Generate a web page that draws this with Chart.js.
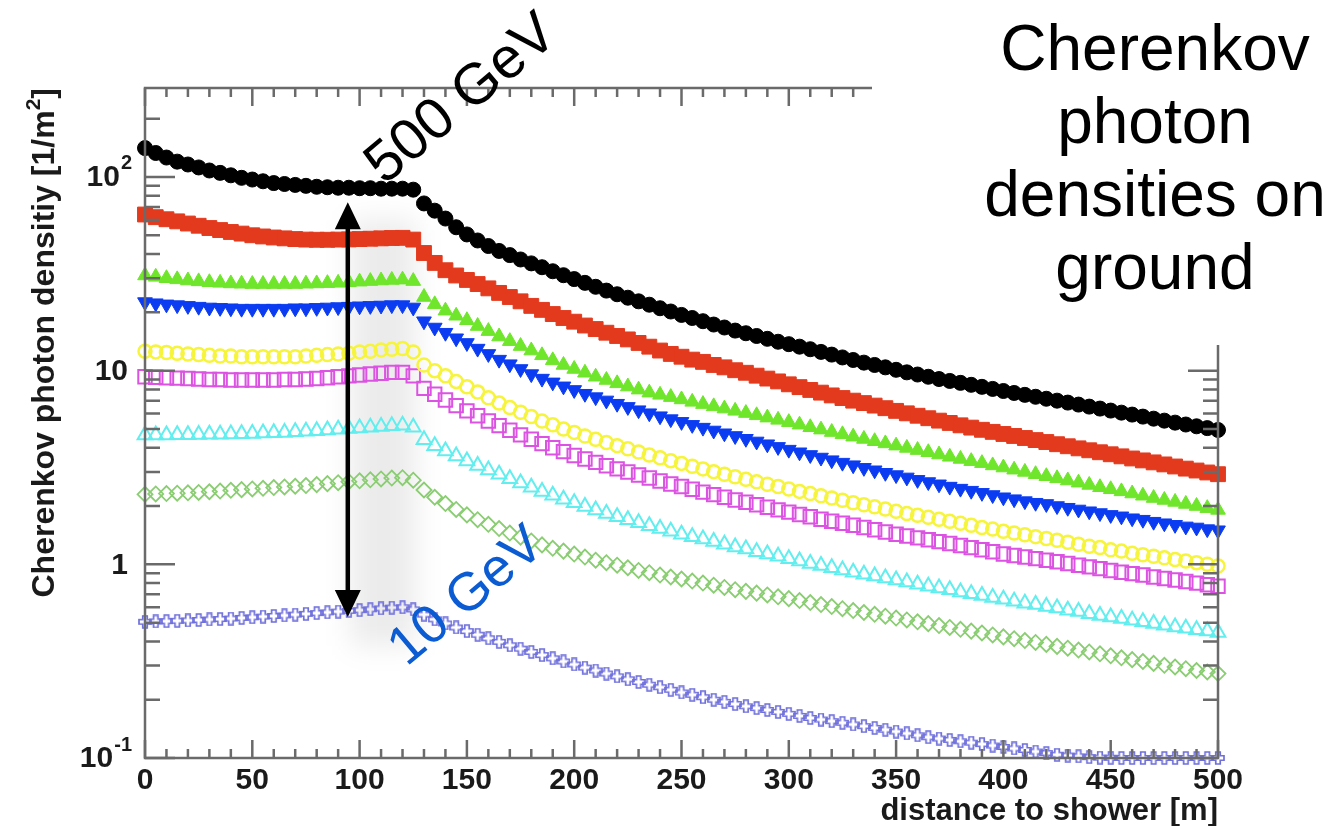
<!DOCTYPE html>
<html>
<head>
<meta charset="utf-8">
<title>Cherenkov photon densities on ground</title>
<script src="https://cdn.jsdelivr.net/npm/chart.js@4.4.0/dist/chart.umd.min.js"></script>
<style>
  html, body { margin: 0; padding: 0; background: #fff; }
  #wrap { position: relative; width: 1328px; height: 826px; }
</style>
</head>
<body>
<div id="wrap"><canvas id="densityChart"></canvas></div>
<script>
// distance to shower axis [m]
const distances = [
  0, 5, 10, 15, 20, 25, 30, 35, 40, 45,
  50, 55, 60, 65, 70, 75, 80, 85, 90, 95,
  100, 105, 110, 115, 120, 125, 130, 135, 140, 145,
  150, 155, 160, 165, 170, 175, 180, 185, 190, 195,
  200, 205, 210, 215, 220, 225, 230, 235, 240, 245,
  250, 255, 260, 265, 270, 275, 280, 285, 290, 295,
  300, 305, 310, 315, 320, 325, 330, 335, 340, 345,
  350, 355, 360, 365, 370, 375, 380, 385, 390, 395,
  400, 405, 410, 415, 420, 425, 430, 435, 440, 445,
  450, 455, 460, 465, 470, 475, 480, 485, 490, 495,
  500
];

// photon densities [1/m^2], highest energy first
const blackCircles = [
  141, 133, 126, 120, 116, 112, 108, 105, 102, 99,
  97, 95, 93, 92, 91, 90, 89, 88.5, 88, 88,
  87.5, 87.5, 87, 87, 87, 86, 73, 67, 61, 55,
  50.5, 47, 44, 41.5, 39.5, 37.5, 35.8, 34.2, 32.6, 31.1,
  29.7, 28.4, 27.1, 25.9, 24.8, 23.8, 22.8, 21.9, 21, 20.2,
  19.4, 18.7, 18, 17.3, 16.7, 16.1, 15.6, 15.1, 14.6, 14.1,
  13.7, 13.3, 12.9, 12.5, 12.1, 11.7, 11.35, 11, 10.7, 10.4,
  10.1, 9.8, 9.55, 9.3, 9.05, 8.85, 8.65, 8.45, 8.25, 8.05,
  7.85, 7.67, 7.5, 7.33, 7.16, 7, 6.84, 6.68, 6.52, 6.37,
  6.22, 6.07, 5.93, 5.79, 5.65, 5.52, 5.39, 5.27, 5.16, 5.05,
  4.94
];
const redSquares = [
  64, 62, 60.5, 59, 57.5, 56, 54.5, 53.2, 52, 51,
  50, 49.3, 48.7, 48.2, 47.8, 47.5, 47.4, 47.4, 47.5, 47.6,
  47.8, 48, 48.2, 48.4, 48.5, 47.5, 40.5, 36, 33, 31,
  29.4, 28, 26.6, 25.2, 24, 22.8, 21.6, 20.6, 19.6, 18.7,
  17.9, 17.1, 16.4, 15.7, 15.1, 14.5, 13.9, 13.3, 12.7, 12.2,
  11.8, 11.4, 11.1, 10.7, 10.4, 10.05, 9.75, 9.42, 9.1, 8.8,
  8.5, 8.22, 7.95, 7.7, 7.45, 7.22, 7, 6.8, 6.6, 6.4,
  6.2, 6.02, 5.85, 5.68, 5.52, 5.37, 5.22, 5.08, 4.95, 4.83,
  4.71, 4.6, 4.49, 4.38, 4.28, 4.17, 4.07, 3.97, 3.88, 3.79,
  3.7, 3.61, 3.52, 3.44, 3.36, 3.28, 3.2, 3.12, 3.05, 2.98,
  2.92
];
const greenTriangles = [
  31, 30.5, 30, 29.6, 29.2, 28.9, 28.6, 28.4, 28.2, 28.1,
  28, 28, 28, 28, 28, 28.1, 28.2, 28.3, 28.4, 28.6,
  28.8, 29, 29.2, 29.4, 29.5, 29, 24, 22, 20.4, 19.2,
  18.2, 17, 16, 15, 14.2, 13.4, 12.7, 12, 11.3, 10.7,
  10.2, 9.75, 9.3, 8.95, 8.6, 8.28, 7.98, 7.7, 7.5, 7.3,
  7.1, 6.9, 6.72, 6.54, 6.37, 6.2, 6.04, 5.88, 5.72, 5.57,
  5.42, 5.26, 5.1, 4.96, 4.82, 4.69, 4.56, 4.44, 4.32, 4.21,
  4.1, 3.99, 3.89, 3.79, 3.69, 3.59, 3.5, 3.41, 3.33, 3.24,
  3.16, 3.08, 3, 2.92, 2.85, 2.78, 2.71, 2.64, 2.57, 2.5,
  2.44, 2.38, 2.32, 2.26, 2.2, 2.15, 2.1, 2.05, 2, 1.95,
  1.91
];
const blueTriangles = [
  22.6, 22.3, 22, 21.8, 21.6, 21.4, 21.2, 21.1, 21, 20.9,
  20.9, 20.9, 20.9, 20.9, 21, 21, 21.1, 21.2, 21.3, 21.4,
  21.5, 21.6, 21.7, 21.8, 21.8, 21.2, 18, 16.7, 15.7, 14.7,
  13.9, 13, 12.2, 11.4, 10.8, 10.2, 9.6, 9.1, 8.7, 8.3,
  7.95, 7.6, 7.3, 7.02, 6.75, 6.5, 6.25, 6.03, 5.82, 5.62,
  5.44, 5.25, 5.08, 4.91, 4.75, 4.6, 4.45, 4.31, 4.17, 4.04,
  3.91, 3.79, 3.67, 3.56, 3.45, 3.35, 3.25, 3.15, 3.06, 2.97,
  2.89, 2.81, 2.73, 2.66, 2.59, 2.52, 2.46, 2.4, 2.34, 2.28,
  2.22, 2.17, 2.12, 2.08, 2.05, 2, 1.96, 1.92, 1.88, 1.84,
  1.8, 1.77, 1.73, 1.7, 1.66, 1.63, 1.6, 1.57, 1.55, 1.52,
  1.5
];
const yellowCircles = [
  12.6, 12.5, 12.4, 12.3, 12.2, 12.1, 12, 11.9, 11.9, 11.8,
  11.8, 11.8, 11.8, 11.8, 11.8, 11.9, 12, 12.1, 12.2, 12.3,
  12.5, 12.6, 12.8, 12.9, 13, 12.5, 10.7, 10, 9.4, 8.8,
  8.25, 7.75, 7.25, 6.8, 6.45, 6.1, 5.8, 5.5, 5.25, 5,
  4.8, 4.6, 4.42, 4.25, 4.1, 3.95, 3.8, 3.67, 3.55, 3.43,
  3.32, 3.21, 3.11, 3.01, 2.92, 2.83, 2.75, 2.67, 2.59, 2.52,
  2.45, 2.38, 2.32, 2.26, 2.2, 2.14, 2.08, 2.03, 1.98, 1.93,
  1.88, 1.83, 1.79, 1.75, 1.71, 1.67, 1.63, 1.59, 1.55, 1.52,
  1.48, 1.45, 1.42, 1.39, 1.36, 1.33, 1.3, 1.27, 1.24, 1.22,
  1.19, 1.17, 1.14, 1.12, 1.1, 1.08, 1.06, 1.04, 1.02, 1,
  0.98
];
const magentaSquares = [
  9.3, 9.25, 9.2, 9.15, 9.1, 9.05, 9, 9, 8.95, 8.95,
  8.95, 8.95, 8.95, 9, 9, 9.05, 9.1, 9.2, 9.3, 9.4,
  9.5, 9.6, 9.7, 9.8, 9.8, 9.4, 8.1, 7.55, 7.05, 6.6,
  6.2, 5.85, 5.5, 5.2, 4.92, 4.66, 4.42, 4.2, 4, 3.82,
  3.65, 3.5, 3.36, 3.23, 3.11, 3, 2.89, 2.79, 2.69, 2.6,
  2.52, 2.44, 2.36, 2.29, 2.22, 2.15, 2.09, 2.03, 1.97, 1.91,
  1.86, 1.81, 1.76, 1.71, 1.67, 1.63, 1.59, 1.55, 1.51, 1.47,
  1.43, 1.4, 1.37, 1.34, 1.31, 1.28, 1.25, 1.22, 1.19, 1.16,
  1.13, 1.11, 1.09, 1.07, 1.05, 1.03, 1.01, 0.99, 0.97, 0.95,
  0.93, 0.91, 0.895, 0.88, 0.86, 0.845, 0.83, 0.815, 0.8, 0.785,
  0.77
];
const cyanTriangles = [
  4.65, 4.65, 4.65, 4.66, 4.67, 4.68, 4.69, 4.7, 4.71, 4.72,
  4.74, 4.76, 4.78, 4.8, 4.83, 4.86, 4.9, 4.94, 4.98, 5.02,
  5.06, 5.1, 5.15, 5.2, 5.22, 5.1, 4.4, 4.1, 3.85, 3.62,
  3.42, 3.24, 3.07, 2.92, 2.77, 2.63, 2.5, 2.38, 2.27, 2.17,
  2.08, 1.99, 1.91, 1.83, 1.76, 1.7, 1.64, 1.58, 1.53, 1.48,
  1.43, 1.39, 1.35, 1.31, 1.27, 1.23, 1.2, 1.16, 1.13, 1.1,
  1.07, 1.04, 1.01, 0.985, 0.96, 0.935, 0.91, 0.89, 0.87, 0.85,
  0.83, 0.81, 0.79, 0.77, 0.755, 0.74, 0.72, 0.705, 0.69, 0.675,
  0.66, 0.645, 0.63, 0.62, 0.605, 0.595, 0.58, 0.57, 0.555, 0.545,
  0.535, 0.525, 0.515, 0.505, 0.495, 0.485, 0.475, 0.467, 0.46, 0.452,
  0.445
];
const greenDiamonds = [
  2.3, 2.31, 2.32, 2.33, 2.34, 2.35, 2.37, 2.39, 2.41, 2.43,
  2.45, 2.47, 2.49, 2.51, 2.53, 2.55, 2.58, 2.61, 2.64, 2.67,
  2.7, 2.73, 2.76, 2.79, 2.8, 2.72, 2.42, 2.22, 2.06, 1.92,
  1.8, 1.7, 1.61, 1.53, 1.45, 1.38, 1.32, 1.26, 1.21, 1.17,
  1.13, 1.09, 1.05, 1.02, 0.99, 0.96, 0.93, 0.905, 0.88, 0.86,
  0.84, 0.82, 0.8, 0.78, 0.76, 0.74, 0.725, 0.71, 0.695, 0.68,
  0.665, 0.65, 0.635, 0.62, 0.605, 0.59, 0.577, 0.564, 0.552, 0.54,
  0.528, 0.516, 0.505, 0.494, 0.483, 0.472, 0.462, 0.452, 0.442, 0.432,
  0.422, 0.413, 0.404, 0.395, 0.386, 0.377, 0.369, 0.361, 0.353, 0.345,
  0.337, 0.329, 0.322, 0.315, 0.308, 0.301, 0.295, 0.289, 0.283, 0.278,
  0.273
];
const violetCrosses = [
  0.505, 0.507, 0.509, 0.511, 0.513, 0.516, 0.519, 0.522, 0.525, 0.529,
  0.533, 0.537, 0.541, 0.545, 0.55, 0.555, 0.56, 0.565, 0.57, 0.575,
  0.58, 0.586, 0.592, 0.598, 0.6, 0.585, 0.55, 0.52, 0.495, 0.472,
  0.452, 0.433, 0.415, 0.398, 0.382, 0.367, 0.353, 0.34, 0.327, 0.315,
  0.304, 0.293, 0.283, 0.273, 0.264, 0.255, 0.247, 0.239, 0.232, 0.225,
  0.218, 0.212, 0.206, 0.2, 0.195, 0.19, 0.185, 0.181, 0.177, 0.173,
  0.169, 0.165, 0.161, 0.158, 0.155, 0.152, 0.149, 0.146, 0.143, 0.14,
  0.137, 0.134, 0.131, 0.128, 0.126, 0.124, 0.122, 0.12, 0.118, 0.116,
  0.114, 0.112, 0.11, 0.108, 0.106, 0.104, 0.103, 0.102, 0.101, 0.1005,
  0.1003, 0.1, 0.1, 0.1, 0.1, 0.1, 0.1, 0.1, 0.1, 0.1,
  0.1
];

// axis ticks
const xTickValues = [0, 50, 100, 150, 200, 250, 300, 350, 400, 450, 500];
const yTickValues = [0.1, 1, 10, 100];
const yTickBases = ['10', '1', '10', '10'];
const yTickExps = ['-1', '', '', '2'];
const titleLines = ['Cherenkov', 'photon', 'densities on', 'ground'];

const FONT = '"Liberation Sans", Arial, Helvetica, sans-serif';

// ROOT style open cross marker
function openCross(color, size) {
  const c = document.createElement('canvas');
  c.width = size; c.height = size;
  const g = c.getContext('2d');
  const m = 1, a = size * 0.34, b = size * 0.66, s = size - 1;
  g.strokeStyle = color;
  g.lineWidth = 1.7;
  g.beginPath();
  g.moveTo(a, m); g.lineTo(b, m); g.lineTo(b, a); g.lineTo(s, a);
  g.lineTo(s, b); g.lineTo(b, b); g.lineTo(b, s); g.lineTo(a, s);
  g.lineTo(a, b); g.lineTo(m, b); g.lineTo(m, a); g.lineTo(a, a);
  g.closePath();
  g.stroke();
  return c;
}

function series(label, values, style) {
  return Object.assign({
    label: label,
    data: distances.map((d, i) => ({ x: d, y: values[i] })),
    showLine: false,
    clip: false
  }, style);
}

// frame, ticks, labels and annotations in ROOT look
const rootFrame = {
  id: 'rootFrame',
  beforeDatasetsDraw(chart) {
    const { ctx, scales: { x, y } } = chart;
    const l = x.getPixelForValue(96), r = x.getPixelForValue(126);
    const t = y.getPixelForValue(60), b = y.getPixelForValue(0.38);
    ctx.save();
    ctx.filter = 'blur(14px)';
    ctx.fillStyle = 'rgba(0,0,0,0.08)';
    ctx.fillRect(l, t, r - l, b - t);
    ctx.restore();
  },
  afterDatasetsDraw(chart) {
    const { ctx, chartArea: a, scales: { x, y } } = chart;
    ctx.save();
    ctx.strokeStyle = '#6a6a6a';
    ctx.lineWidth = 2.5;
    ctx.strokeRect(a.left, a.top, a.right - a.left, a.bottom - a.top);
    ctx.beginPath();
    for (let v = 0; v <= 500; v += 10) {
      const px = x.getPixelForValue(v);
      const len = v % 50 === 0 ? 18 : 9;
      ctx.moveTo(px, a.bottom); ctx.lineTo(px, a.bottom - len);
      ctx.moveTo(px, a.top); ctx.lineTo(px, a.top + len);
    }
    for (let e = -1; e <= 2; e++) {
      for (let k = 1; k <= 9; k++) {
        const v = k * Math.pow(10, e);
        if (v > y.max) break;
        const py = y.getPixelForValue(v);
        const len = k === 1 ? 30 : 15;
        ctx.moveTo(a.left, py); ctx.lineTo(a.left + len, py);
        ctx.moveTo(a.right, py); ctx.lineTo(a.right - len, py);
      }
    }
    ctx.stroke();

    // tick labels
    ctx.fillStyle = '#1a1a1a';
    ctx.font = 'bold 30px ' + FONT;
    ctx.textAlign = 'center';
    ctx.textBaseline = 'middle';
    xTickValues.forEach(v => ctx.fillText(String(v), x.getPixelForValue(v), 781));

    yTickValues.forEach((v, i) => {
      const py = y.getPixelForValue(v);
      const right = 132;
      ctx.font = 'bold 20px ' + FONT;
      const ew = yTickExps[i] ? ctx.measureText(yTickExps[i]).width + 1 : 4;
      if (yTickExps[i]) {
        ctx.textAlign = 'right';
        ctx.fillText(yTickExps[i], right, py - 13);
      }
      ctx.font = 'bold 30px ' + FONT;
      ctx.textAlign = 'right';
      ctx.fillText(yTickBases[i], right - ew, py + 1);
    });

    // axis titles
    ctx.textBaseline = 'alphabetic';
    ctx.font = 'bold 31px ' + FONT;
    ctx.textAlign = 'right';
    ctx.fillText('distance to shower [m]', a.right, 820);

    ctx.save();
    ctx.translate(54, a.top);
    ctx.rotate(-Math.PI / 2);
    ctx.textAlign = 'left';
    const main = 'Cherenkov photon densitiy [1/m';
    ctx.font = 'bold 32px ' + FONT;
    const wMain = ctx.measureText(main).width;
    const wEnd = ctx.measureText(']').width;
    ctx.font = 'bold 21px ' + FONT;
    const wSup = ctx.measureText('2').width;
    let pos = -(wMain + wSup + wEnd);
    ctx.font = 'bold 32px ' + FONT;
    ctx.fillText(main, pos, 0);
    pos += wMain;
    ctx.font = 'bold 21px ' + FONT;
    ctx.fillText('2', pos, -14);
    pos += wSup;
    ctx.font = 'bold 32px ' + FONT;
    ctx.fillText(']', pos, 0);
    ctx.restore();

    // double arrow
    const ax = x.getPixelForValue(94.5);
    const top = y.getPixelForValue(74), bot = y.getPixelForValue(0.535);
    ctx.strokeStyle = '#000';
    ctx.fillStyle = '#000';
    ctx.lineWidth = 4.5;
    ctx.beginPath();
    ctx.moveTo(ax, top + 20); ctx.lineTo(ax, bot - 20);
    ctx.stroke();
    ctx.beginPath();
    ctx.moveTo(ax, top); ctx.lineTo(ax - 13, top + 27); ctx.lineTo(ax + 13, top + 27); ctx.closePath();
    ctx.moveTo(ax, bot); ctx.lineTo(ax - 13, bot - 27); ctx.lineTo(ax + 13, bot - 27); ctx.closePath();
    ctx.fill();
    ctx.restore();
  },
  afterDraw(chart) {
    const { ctx } = chart;
    ctx.save();
    // slide text box covers the upper right corner of the frame
    ctx.fillStyle = '#fff';
    ctx.fillRect(872, 0, 456, 345);

    ctx.fillStyle = '#000';
    ctx.font = '64px ' + FONT;
    ctx.textAlign = 'center';
    ctx.textBaseline = 'alphabetic';
    titleLines.forEach((t, i) => ctx.fillText(t, 1155, 70 + i * 73));

    ctx.textBaseline = 'middle';
    ctx.save();
    ctx.translate(462, 100);
    ctx.rotate(-40 * Math.PI / 180);
    ctx.font = '58px ' + FONT;
    ctx.fillStyle = '#000';
    ctx.fillText('500 GeV', 0, 0);
    ctx.restore();

    ctx.save();
    ctx.translate(467, 597);
    ctx.rotate(-40 * Math.PI / 180);
    ctx.font = '54px ' + FONT;
    ctx.fillStyle = '#0b5bd3';
    ctx.fillText('10 GeV', 0, 0);
    ctx.restore();
    ctx.restore();
  }
};

const ctx = document.getElementById('densityChart').getContext('2d');

const densityChart = new Chart(ctx, {
  type: 'scatter',
  data: {
    datasets: [
      series('500 GeV', blackCircles, {
        pointStyle: 'circle', pointRadius: 7.5, borderWidth: 1,
        backgroundColor: '#000', borderColor: '#000'
      }),
      series('red', redSquares, {
        pointStyle: 'rect', pointRadius: 10.5, borderWidth: 1,
        backgroundColor: '#e33a1e', borderColor: '#e33a1e'
      }),
      series('green', greenTriangles, {
        pointStyle: 'triangle', pointRadius: 8.5, borderWidth: 1,
        backgroundColor: '#6fe52c', borderColor: '#6fe52c'
      }),
      series('blue', blueTriangles, {
        pointStyle: 'triangle', pointRotation: 180, pointRadius: 8.5, borderWidth: 1,
        backgroundColor: '#0b3cf2', borderColor: '#0b3cf2'
      }),
      series('yellow', yellowCircles, {
        pointStyle: 'circle', pointRadius: 6.5, borderWidth: 2.5,
        backgroundColor: 'rgba(0,0,0,0)', borderColor: '#f6f43c'
      }),
      series('magenta', magentaSquares, {
        pointStyle: 'rect', pointRadius: 9.5, borderWidth: 2,
        backgroundColor: 'rgba(0,0,0,0)', borderColor: '#dc52e2'
      }),
      series('cyan', cyanTriangles, {
        pointStyle: 'triangle', pointRadius: 8.5, borderWidth: 2,
        backgroundColor: 'rgba(0,0,0,0)', borderColor: '#62eeee'
      }),
      series('light green', greenDiamonds, {
        pointStyle: 'rectRot', pointRadius: 7.5, borderWidth: 1.8,
        backgroundColor: 'rgba(0,0,0,0)', borderColor: '#8acd72'
      }),
      series('10 GeV', violetCrosses, {
        pointStyle: openCross('#6f6fdc', 14), pointRadius: 7,
        backgroundColor: 'rgba(0,0,0,0)', borderColor: '#6f6fdc'
      })
    ]
  },
  options: {
    responsive: true,
    maintainAspectRatio: false,
    animation: false,
    layout: {
      padding: { left: 145, right: 110, top: 88, bottom: 68 }
    },
    scales: {
      x: { type: 'linear', min: 0, max: 500, display: false },
      y: { type: 'logarithmic', min: 0.1, max: 288, display: false }
    },
    plugins: {
      legend: { display: false },
      tooltip: { enabled: false }
    },
    events: []
  },
  plugins: [rootFrame]
});
</script>
</body>
</html>
